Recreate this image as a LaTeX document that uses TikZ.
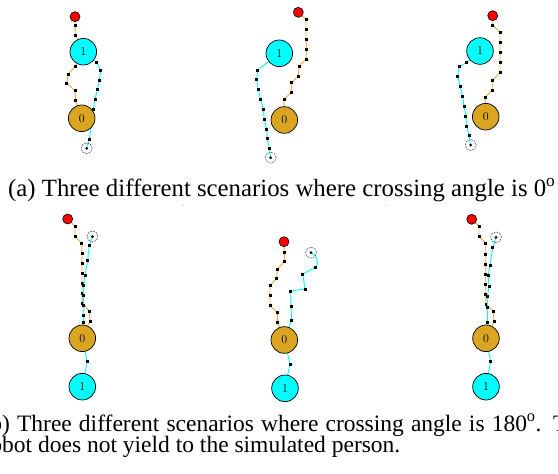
\documentclass[tikz,border=0pt]{standalone}
\usepackage{fontspec}
\newfontfamily\capfont{Liberation Serif}
\usetikzlibrary{backgrounds}
\definecolor{robgold}{RGB}{218,165,32}
\definecolor{robcyan}{RGB}{0,255,255}
\definecolor{trackgold}{RGB}{232,172,62}
\tikzset{
	goal/.style={draw,circle,inner sep=0pt,minimum size=10pt,fill=red,line width=0.6pt},
	rob0/.style={draw,circle,inner sep=0pt,minimum size=26.6pt,fill=robgold,line width=0.7pt,font=\fontsize{12}{12}\selectfont},
	rob1/.style={rob0,fill=robcyan},
	tgt/.style={draw=black!75,circle,dash pattern=on 2pt off 1pt,inner sep=0pt,minimum size=11pt,line width=0.5pt},
	trk0/.style={draw=trackgold,line width=0.9pt},
	trk1/.style={draw=robcyan,line width=0.9pt},
	sq/.style={rectangle,fill=black,inner sep=0pt,minimum width=3pt,minimum height=3pt},
	captext/.style={anchor=base west,inner sep=0pt,font=\capfont\fontsize{23.5}{23.5}\selectfont}
}
\begin{document}
\begin{tikzpicture}[x=1pt,y=-1pt]
\useasboundingbox (0,0) rectangle (558,474);
\begin{scope}[shift={(40,0)}]
	\node[goal] (G) at (35,16.7) {};
	\node[rob1] (R1) at (43.3,51.7) {1};
	\node[rob0] (R0) at (41.7,118.3) {0};
	\node[tgt] (T) at (46.7,148.3) {};
	\fill (T.center) circle (1.5pt);
	\begin{scope}[on background layer]
	\draw[trk0] (G.center) foreach \p [count=\k] in {(35,25.3),(35.3,35)} {-- \p node[sq] (oa\k) {}} -- (R1.center)
		foreach \p [count=\k] in {(35,66.7),(28.3,74),(26.7,83.3),(35,90.7),(35.7,100.7)} {-- \p node[sq] (ob\k) {}} -- (R0.center);
	\draw[trk1] (R1.center) foreach \p [count=\k] in {(56.7,62.3),(60.7,70.7),(59.3,80),(57.3,89.3),(55,99.3),(53.3,109.3),(49.3,139.3)} {-- \p node[sq] (c\k) {}} -- (T.center);
	\end{scope}
\end{scope}
\begin{scope}[shift={(230,0)}]
	\node[goal] (G) at (68.3,12.3) {};
	\node[rob1] (R1) at (49.3,53.3) {1};
	\node[rob0] (R0) at (54.3,120) {0};
	\node[tgt] (T) at (40.7,157.7) {};
	\fill (T.center) circle (1.5pt);
	\begin{scope}[on background layer]
	\draw[trk0] (G.center) foreach \p [count=\k] in {(76,19.3),(76,29.3),(76,39.3),(76.7,49.3),(76,59.3),(69,66),(68.3,76),(61.7,82.7),(61,92.7),(54,99.3)} {-- \p node[sq] (o\k) {}} -- (R0.center);
	\draw[trk1] (R1.center) foreach \p [count=\k] in {(27.7,70),(26.7,79.3),(28.3,89.3),(30.7,99.3),(33.3,109.3),(34.3,119.3),(36.7,129.3),(37.3,138.3),(39.3,148.3)} {-- \p node[sq] (c\k) {}} -- (T.center);
	\end{scope}
\end{scope}
\begin{scope}[shift={(440,0)}]
	\node[goal] (G) at (52.7,15.7) {};
	\node[rob1] (R1) at (40,51) {1};
	\node[rob0] (R0) at (45.7,116.7) {0};
	\node[tgt] (T) at (30.7,145) {};
	\fill (T.center) circle (1.5pt);
	\begin{scope}[on background layer]
	\draw[trk0] (G.center) foreach \p [count=\k] in {(52.7,25),(60,32.7),(60,42.7),(60,52.7),(60,62.7),(60,72.7),(52.7,80),(52.7,90),(45,97.3)} {-- \p node[sq] (o\k) {}} -- (R0.center);
	\draw[trk1] (R1.center) foreach \p [count=\k] in {(26.7,62.7),(19,66.7),(17.7,76),(20,86),(22.7,96),(24,106),(25.7,116),(26.7,126),(29,135)} {-- \p node[sq] (c\k) {}} -- (T.center);
	\end{scope}
\end{scope}
\node[captext,font=\capfont\fontsize{24.8}{24.8}\selectfont] (capa) at (8,196) {(a) Three different scenarios where crossing angle is 0\textsuperscript{o}};
\fill[black!60] (183,205) circle (0.5pt);
\fill[black!60] (386,205) circle (0.5pt);
\begin{scope}[shift={(40,200)}]
	\node[goal] (G) at (27.7,19) {};
	\node[tgt] (T) at (52.5,36.5) {};
	\node[rob0] (R0) at (42.3,138.3) {0};
	\node[rob1] (R1) at (42.3,186.7) {1};
	\fill (T.center) circle (1.5pt);
	\begin{scope}[on background layer]
	\draw[trk0] (G.center) foreach \p [count=\k] in {(35,26),(35,36),(41.7,43.3),(42,53.3),(42,63.3),(42,73.3),(42,83.3),(42,93.3),(42.7,103.3),(49.3,111),(50,121)} {-- \p node[sq] (o\k) {}} -- (R0.center);
	\draw[trk1] (R1.center) -- (47.3,161.7) node[sq] (c0) {} -- (R0.center)
		foreach \p [count=\k] in {(43.3,122.7),(43.7,115),(43.7,105),(43.3,95),(43.7,85),(45,75),(47.7,60),(49.3,45)} {-- \p node[sq] (c\k) {}} -- (T.center);
	\end{scope}
\end{scope}
\begin{scope}[shift={(230,220)}]
	\node[goal] (G) at (54,21.7) {};
	\node[tgt] (T) at (81,32.7) {};
	\node[rob0] (R0) at (54.3,120) {0};
	\node[rob1] (R1) at (55,168.3) {1};
	\fill (T.center) circle (1.5pt);
	\begin{scope}[on background layer]
	\draw[trk0] (G.center) foreach \p [count=\k] in {(54.3,32.7),(54.3,41.7),(47.3,49.3),(46.7,58.3),(40,65.7),(40,75.7),(40,85.7),(47.3,92.7),(47.3,102.7)} {-- \p node[sq] (o\k) {}} -- (R0.center);
	\draw[trk1] (R1.center) -- (60,144) node[sq] (c0) {} -- (R0.center)
		foreach \p [count=\k] in {(61.7,100),(61,86.7),(60.7,71),(75,69),(72.7,54),(85.7,47.3)} {-- \p node[sq] (c\k) {}} to[out=45,in=-20] (T.center);
	\end{scope}
\end{scope}
\begin{scope}[shift={(440,200)}]
	\node[goal] (G) at (31.7,19.3) {};
	\node[tgt] (T) at (56,37.3) {};
	\node[rob0] (R0) at (46,138.3) {0};
	\node[rob1] (R1) at (46,186.7) {1};
	\fill (T.center) circle (1.5pt);
	\begin{scope}[on background layer]
	\draw[trk0] (G.center) foreach \p [count=\k] in {(39,26),(39,36),(45.7,43.3),(45.7,54.3),(45.7,64.3),(45.7,74.3),(45.7,84.3),(45.7,94.3),(46,104.3),(53.3,111),(54,121.7)} {-- \p node[sq] (o\k) {}} -- (R0.center);
	\draw[trk1] (R1.center) -- (50.7,161.7) node[sq] (c0) {} -- (R0.center)
		foreach \p [count=\k] in {(47.3,122.7),(47.7,107.7),(47.3,96.7),(49,86.7),(48.3,75),(50,65),(52.7,47.7)} {-- \p node[sq] (c\k) {}} -- (T.center);
	\end{scope}
\end{scope}
\node[captext] (capb1) at (-17.6,431) {\hbox to 607pt{(b) Three different scenarios where crossing angle is 180\textsuperscript{o}. The}};
\node[captext] (capb2) at (-17.6,452) {robot does not yield to the simulated person.};
\end{tikzpicture}
\end{document}
